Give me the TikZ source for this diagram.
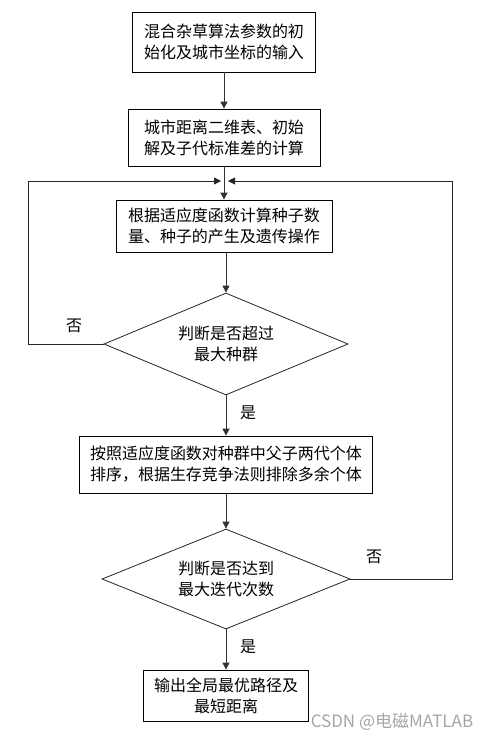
\documentclass[tikz,border=0pt]{standalone}
\usepackage{fontspec}
\setmainfont{Noto Sans CJK SC}
\newfontfamily\wmfont{Noto Sans CJK SC}
\usetikzlibrary{arrows.meta,shapes.geometric}
\begin{document}
\begin{tikzpicture}[x=1pt,y=-1pt,
  every node/.style={font=\fontsize{16}{21}\selectfont},
  stepbox/.style={draw=black,line width=0.8pt,inner sep=0pt,align=center},
  decide/.style={draw=black!85,line width=0.8pt,diamond,inner sep=0pt,align=center},
  flow/.style={draw=black!80,line width=1pt,-{Triangle[length=7pt,width=7pt]}},
  loopline/.style={draw=black!85,line width=0.8pt,-{Triangle[length=7pt,width=7pt]}},
  lbl/.style={inner sep=0pt}]
\useasboundingbox[fill=white] (0,0) rectangle (489,740);
\node[stepbox,minimum width=183pt,minimum height=60pt] (b1) at (224,42) {混合杂草算法参数的初\\始化及城市坐标的输入};
\node[stepbox,minimum width=192pt,minimum height=57pt] (b2) at (224,137.5) {城市距离二维表、初始\\解及子代标准差的计算};
\node[stepbox,minimum width=216pt,minimum height=52pt,align=left] (b3) at (224,226) {根据适应度函数计算种子数\\量、种子的产生及遗传操作};
\node[decide,minimum width=244pt,minimum height=102pt,aspect=2.4] (d1) at (226,344) {判断是否超过\\最大种群};
\node[stepbox,minimum width=293pt,minimum height=57pt] (b4) at (226,464.5) {按照适应度函数对种群中父子两代个体\\排序，根据生存竞争法则排除多余个体};
\node[decide,minimum width=248pt,minimum height=100pt,aspect=2.48] (d2) at (226,579) {判断是否达到\\最大迭代次数};
\node[stepbox,minimum width=165pt,minimum height=51pt] (b5) at (226,695.5) {输出全局最优路径及\\最短距离};
\coordinate (m) at (224,181);
\coordinate (ml) at (221,181);
\coordinate (mr) at (228,181);
\draw[flow] (b1) -- (b2);
\draw[flow] (b2) -- (b3);
\draw[flow] (b3.south -| d1.north) -- (d1.north);
\draw[flow] (d1) -- (b4);
\draw[flow] (b4) -- (d2);
\draw[flow] (d2) -- (b5);
\draw[loopline] (d1.west) -- ++(-75,0) |- (ml);
\draw[loopline] (d2.east) -- ++(102,0) |- (mr);
\node[lbl] (n1) at (74,326) {否};
\node[lbl] (y1) at (248,413) {是};
\node[lbl] (n2) at (374,557) {否};
\node[lbl] (y2) at (248,647) {是};
\node[lbl,text=black!35,font=\wmfont\fontsize{17}{19}\selectfont] (wm) at (392,722) {CSDN @电磁MATLAB};
\end{tikzpicture}
\end{document}
